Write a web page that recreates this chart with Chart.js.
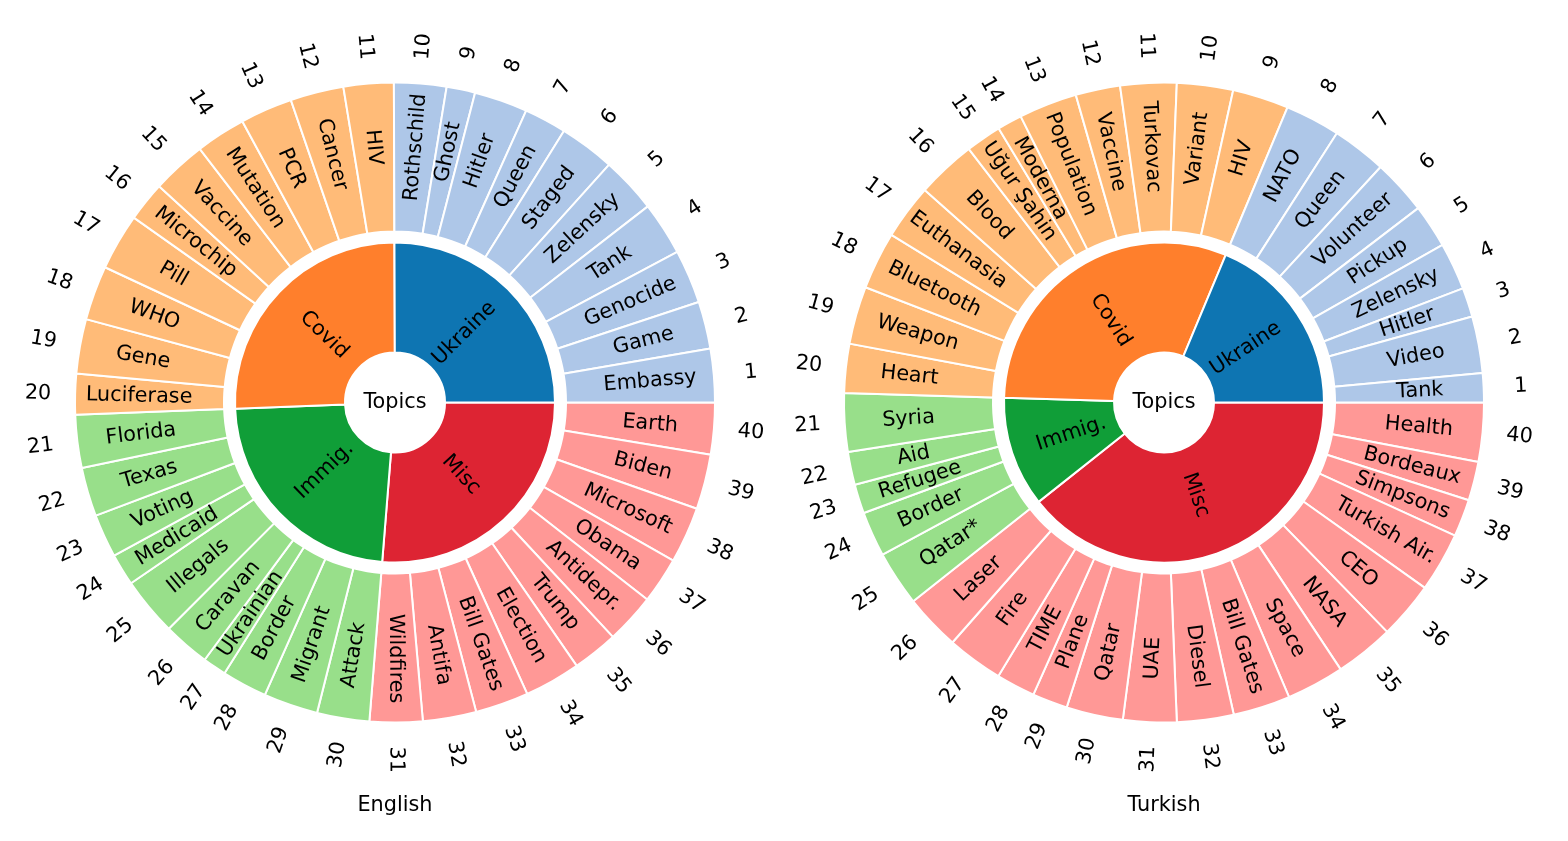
<!DOCTYPE html>
<html>
<head>
<meta charset="utf-8">
<script src="https://cdn.jsdelivr.net/npm/chart.js@4.4.0/dist/chart.umd.min.js"></script>
<style>
  html, body { margin: 0; padding: 0; background: #ffffff; }
  body { width: 1568px; height: 841px; position: relative; overflow: hidden; }
  canvas { position: absolute; top: 0; }
  #cEn { left: 11px; }
  #cTr { left: 780px; }
</style>
</head>
<body>
<canvas id="cEn" width="768" height="841" style="width:768px;height:841px"></canvas>
<canvas id="cTr" width="768" height="841" style="width:768px;height:841px"></canvas>
<script>
// ---- data (angular share of each keyword) ----
const topics = ['Ukraine', 'Covid', 'Immig.', 'Misc'];

const enLabels = [
  'Embassy', 'Game', 'Genocide', 'Tank', 'Zelensky', 'Staged', 'Queen', 'Hitler', 'Ghost', 'Rothschild',
  'HIV', 'Cancer', 'PCR', 'Mutation', 'Vaccine', 'Microchip', 'Pill', 'WHO', 'Gene', 'Luciferase',
  'Florida', 'Texas', 'Voting', 'Medicaid', 'Illegals', 'Caravan', 'Ukrainian', 'Border', 'Migrant', 'Attack',
  'Wildfires', 'Antifa', 'Bill Gates', 'Election', 'Trump', 'Antidepr.', 'Obama', 'Microsoft', 'Biden', 'Earth'
];
const enValues = [
  9.7, 8.6, 9.8, 9.7, 10.2, 10.1, 7.7, 9.7, 5.2, 9.5,
  9.1, 9.7, 9.5, 9.1, 9.9, 7.2, 10.3, 9.9, 9.9, 7.4,
  9.6, 8.9, 7.9, 5.8, 10.6, 8.5, 4.3, 8.2, 9.9, 9.5,
  9.6, 9.7, 9.7, 10.2, 8.3, 9.1, 8.4, 10.2, 10.0, 9.4
];
const enGroupSizes = [10, 10, 10, 10];

const trLabels = [
  'Tank', 'Video', 'Hitler', 'Zelensky', 'Pickup', 'Volunteer', 'Queen', 'NATO',
  'HIV', 'Variant', 'Turkovac', 'Vaccine', 'Population', 'Moderna', 'Uğur Şahin', 'Blood', 'Euthanasia', 'Bluetooth', 'Weapon', 'Heart',
  'Syria', 'Aid', 'Refugee', 'Border', 'Qatar*',
  'Laser', 'Fire', 'TIME', 'Plane', 'Qatar', 'UAE', 'Diesel', 'Bill Gates', 'Space', 'NASA', 'CEO', 'Turkish Air.', 'Simpsons', 'Bordeaux', 'Health'
];
const trValues = [
  5.3, 10.3, 5.3, 8.6, 7.9, 10.0, 9.9, 10.0,
  10.2, 10.2, 10.2, 8.1, 10.6, 4.5, 6.5, 10.8, 10.0, 10.5, 10.5, 8.9,
  10.6, 6.0, 5.3, 8.2, 10.0,
  10.2, 10.2, 7.1, 6.4, 10.3, 9.7, 10.3, 10.4, 10.5, 10.7, 10.4, 10.8, 6.8, 7.1, 10.7
];
const trGroupSizes = [8, 12, 5, 15];

const innerColors = ['#0e75b2', '#ff7f2c', '#109e38', '#dd2433'];
const outerColors = ['#aec7e8', '#ffbb78', '#98df8a', '#ff9896'];

const FONT_PX = 20.8;
const FONT = FONT_PX + 'px "DejaVu Sans"';
const BASE_SHIFT = 0.276 * FONT_PX; // centre of text box above the baseline

function drawRadial(ctx, cx, cy, mid, r, text) {
  const px = cx + r * Math.cos(mid);
  const py = cy + r * Math.sin(mid);
  let deg = (-mid * 180 / Math.PI) % 360;
  if (deg < 0) deg += 360;
  let rot;
  if (deg <= 90) rot = deg;
  else if (deg < 270) rot = deg - 180;
  else rot = deg - 360;
  ctx.save();
  ctx.translate(px, py);
  ctx.rotate(-rot * Math.PI / 180);
  ctx.fillText(text, 0, BASE_SHIFT);
  ctx.restore();
}

const sunLabels = {
  id: 'sunLabels',
  afterDatasetsDraw(chart, args, opts) {
    const ctx = chart.ctx;
    const outerMeta = chart.getDatasetMeta(0);
    const innerMeta = chart.getDatasetMeta(2);
    ctx.save();
    ctx.fillStyle = '#000000';
    ctx.font = FONT;
    ctx.textAlign = 'center';
    ctx.textBaseline = 'alphabetic';
    const n = outerMeta.data.length;
    const R = outerMeta.data[0].outerRadius;
    outerMeta.data.forEach((arc, i) => {
      const idx = n - 1 - i;
      const mid = (arc.startAngle + arc.endAngle) / 2;
      drawRadial(ctx, arc.x, arc.y, mid, R * 0.80, opts.labels[idx]);
      drawRadial(ctx, arc.x, arc.y, mid, R * 1.116, String(idx + 1));
    });
    const m = innerMeta.data.length;
    innerMeta.data.forEach((arc, i) => {
      const idx = m - 1 - i;
      const mid = (arc.startAngle + arc.endAngle) / 2;
      drawRadial(ctx, arc.x, arc.y, mid, R * 0.306, topics[idx]);
    });
    const c = outerMeta.data[0];
    ctx.fillText('Topics', c.x, c.y + BASE_SHIFT);
    ctx.fillText(opts.title, c.x, c.y + 402.5 + BASE_SHIFT);
    ctx.restore();
  }
};

function makeChart(id, labels, values, groupSizes, title) {
  const outerCols = [];
  const innerVals = [];
  let k = 0;
  groupSizes.forEach((g, gi) => {
    let s = 0;
    for (let j = 0; j < g; j++) { outerCols.push(outerColors[gi]); s += values[k + j]; }
    innerVals.push(s);
    k += g;
  });
  const outerData = values.slice().reverse();
  const outerBg = outerCols.slice().reverse();
  const innerData = innerVals.slice().reverse();
  const innerBg = innerColors.slice().reverse();

  return new Chart(document.getElementById(id), {
    type: 'doughnut',
    data: {
      labels: labels.slice().reverse(),
      datasets: [
        { data: outerData, backgroundColor: outerBg, borderColor: '#ffffff', borderWidth: 2,
          hoverOffset: 0, hoverBorderWidth: 2, weight: 149 },
        { data: [1], backgroundColor: 'rgba(0,0,0,0)', borderWidth: 0, hoverOffset: 0, weight: 11 },
        { data: innerData, backgroundColor: innerBg, borderColor: '#ffffff', borderWidth: 2,
          hoverOffset: 0, hoverBorderWidth: 2, weight: 110 }
      ]
    },
    options: {
      responsive: false,
      animation: false,
      events: [],
      rotation: 90,
      cutout: 50,
      layout: { padding: { left: 63, right: 63, top: 81.5, bottom: 117.5 } },
      plugins: {
        legend: { display: false },
        tooltip: { enabled: false },
        sunLabels: { labels: labels, title: title }
      }
    },
    plugins: [sunLabels]
  });
}

makeChart('cEn', enLabels, enValues, enGroupSizes, 'English');
makeChart('cTr', trLabels, trValues, trGroupSizes, 'Turkish');
</script>
</body>
</html>
